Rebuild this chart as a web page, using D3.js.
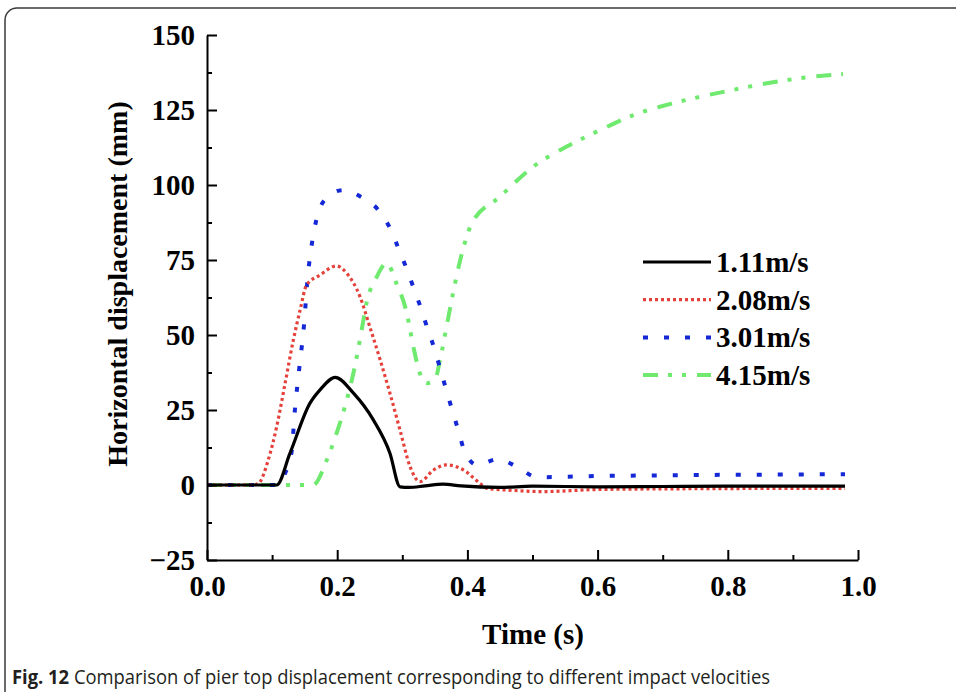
<!DOCTYPE html>
<html>
<head>
<meta charset="utf-8">
<script src="https://cdn.jsdelivr.net/npm/d3@7/dist/d3.min.js"></script>
<style>
  html, body { margin: 0; padding: 0; background: #fff; }
  svg { display: block; }
</style>
</head>
<body>
<svg id="chart" width="956" height="692"></svg>
<script>
// Pier top horizontal displacement under four impact velocities
const seriesNames = ["1.11m/s", "2.08m/s", "3.01m/s", "4.15m/s"];

const time111 = [0, 0.05, 0.107, 0.1275, 0.158, 0.1736, 0.197, 0.225, 0.2555, 0.281, 0.2965, 0.31, 0.335, 0.3625, 0.39, 0.45, 0.5, 0.6, 0.7, 0.8, 0.9, 0.98];
const disp111 = [0, 0, 0, 10.6, 27.2, 31.7, 35.9, 30.6, 21.7, 10.6, -0.6, -0.8, -0.3, 0.3, -0.3, -0.8, -0.4, -0.6, -0.5, -0.4, -0.4, -0.4];

const time208 = [0, 0.07, 0.079, 0.094, 0.107, 0.12, 0.1326, 0.143, 0.153, 0.1736, 0.199, 0.2146, 0.235, 0.25, 0.266, 0.281, 0.2965, 0.312, 0.327, 0.348, 0.368, 0.394, 0.419, 0.43, 0.47, 0.517, 0.6, 0.7, 0.8, 0.9, 0.98];
const disp208 = [0, 0, 0.5, 8.3, 19.4, 33.9, 48.3, 58.3, 66.7, 70, 73, 70.6, 62.8, 52.8, 41.7, 30.6, 18.3, 6.1, 1.1, 5, 6.7, 5, 0.6, -1.1, -1.8, -2.2, -1.5, -1.3, -1.2, -1.1, -1.1];

const time301 = [0, 0.11, 0.12, 0.13, 0.135, 0.142, 0.149, 0.154, 0.162, 0.1685, 0.18, 0.2084, 0.2376, 0.263, 0.281, 0.294, 0.307, 0.318, 0.329, 0.339, 0.35, 0.359, 0.368, 0.377, 0.3866, 0.396, 0.415, 0.4465, 0.476, 0.507, 0.6, 0.7, 0.8, 0.9, 0.98];
const disp301 = [0, 0, 3.9, 11.1, 25, 39.4, 53.3, 67.6, 81.7, 88.8, 94.8, 98.3, 95.9, 91.7, 85.6, 78.9, 71.9, 65.3, 58.7, 51.9, 45, 38.1, 31.4, 24.7, 17.8, 11, 6.7, 8.6, 6.1, 2.6, 3.0, 3.2, 3.4, 3.5, 3.6];

const time415 = [0, 0.163, 0.184, 0.199, 0.2146, 0.227, 0.2376, 0.245, 0.2607, 0.276, 0.291, 0.307, 0.317, 0.327, 0.3375, 0.35, 0.358, 0.368, 0.378, 0.389, 0.399, 0.4066, 0.45, 0.501, 0.5525, 0.6037, 0.655, 0.706, 0.757, 0.808, 0.86, 0.911, 0.977];
const disp415 = [0, 0, 8.3, 17.2, 28.3, 39.4, 51.7, 60.6, 69.4, 73.9, 67.2, 57.2, 46.1, 37.2, 33.9, 35, 41.7, 52.8, 64, 75, 82.8, 87.2, 96.1, 106.1, 112.8, 118.3, 123.3, 126.7, 129.4, 131.7, 133.9, 135.6, 137];

const xTicks = [0, 0.2, 0.4, 0.6, 0.8, 1.0];
const xMinorTicks = [0.1, 0.3, 0.5, 0.7, 0.9];
const yTicks = [-25, 0, 25, 50, 75, 100, 125, 150];
const yMinorTicks = [-12.5, 12.5, 37.5, 62.5, 87.5, 112.5, 137.5];

const svg = d3.select("#chart");

// figure frame with rounded corner
svg.append("rect")
  .attr("x", 5).attr("y", 8)
  .attr("width", 970).attr("height", 700)
  .attr("rx", 12).attr("ry", 12)
  .attr("fill", "#fff")
  .attr("stroke", "#3a3a3a")
  .attr("stroke-width", 1.5);

const x = d3.scaleLinear().domain([0, 1]).range([207, 858]);
const y = d3.scaleLinear().domain([-25, 150]).range([560, 35]);

const styles = [
  { color: "#000000", width: 3.2, dash: null },
  { color: "#e5413b", width: 3.2, dash: "3,3" },
  { color: "#1428d6", width: 4, dash: "5,16" },
  { color: "#6fea6f", width: 4, dash: "15,10,4,10,4,11" }
];

const series = [
  { t: time111, v: disp111 },
  { t: time208, v: disp208 },
  { t: time301, v: disp301 },
  { t: time415, v: disp415 }
];

const line = d3.line()
  .x(d => x(d[0]))
  .y(d => y(d[1]))
  .curve(d3.curveMonotoneX);

const plot = svg.append("g");
[3, 2, 1, 0].forEach(i => {
  const pts = series[i].t.map((t, k) => [t, series[i].v[k]]);
  plot.append("path")
    .datum(pts)
    .attr("d", line)
    .attr("fill", "none")
    .attr("stroke", styles[i].color)
    .attr("stroke-width", styles[i].width)
    .attr("stroke-dasharray", styles[i].dash)
    .attr("stroke-linejoin", "round");
});

const tickFont = "'Liberation Serif', 'Times New Roman', serif";

// x axis
const xAxis = svg.append("g").attr("transform", "translate(0,560)")
  .call(d3.axisBottom(x).tickValues(xTicks).tickSizeInner(-10).tickSizeOuter(0).tickPadding(10)
    .tickFormat(d3.format(".1f")));
svg.append("g").attr("transform", "translate(0,560)")
  .call(d3.axisBottom(x).tickValues(xMinorTicks).tickSizeInner(-5).tickSizeOuter(0).tickFormat(""))
  .select(".domain").remove();

// y axis
const yAxis = svg.append("g").attr("transform", "translate(207,0)")
  .call(d3.axisLeft(y).tickValues(yTicks).tickSizeInner(-10).tickSizeOuter(0).tickPadding(12)
    .tickFormat(d3.format("d")));
svg.append("g").attr("transform", "translate(207,0)")
  .call(d3.axisLeft(y).tickValues(yMinorTicks).tickSizeInner(-5).tickSizeOuter(0).tickFormat(""))
  .select(".domain").remove();

svg.selectAll(".domain, .tick line").attr("stroke", "#000").attr("stroke-width", 2);
svg.selectAll(".tick text")
  .attr("fill", "#000")
  .style("font-family", tickFont)
  .style("font-weight", "bold")
  .style("font-size", "29px");
xAxis.selectAll(".tick text").attr("dy", "0.9em");

// axis titles
svg.append("text")
  .attr("x", 533).attr("y", 644)
  .attr("text-anchor", "middle")
  .style("font-family", tickFont).style("font-weight", "bold").style("font-size", "29px")
  .text("Time (s)");

svg.append("text")
  .attr("transform", "translate(127,284) rotate(-90)")
  .attr("text-anchor", "middle")
  .style("font-family", tickFont).style("font-weight", "bold").style("font-size", "28px")
  .text("Horizontal displacement (mm)");

// legend
const legend = svg.append("g");
seriesNames.forEach((name, i) => {
  const yy = 262 + i * 37.7;
  legend.append("line")
    .attr("x1", 643).attr("x2", 711)
    .attr("y1", yy).attr("y2", yy)
    .attr("stroke", styles[i].color)
    .attr("stroke-width", styles[i].width)
    .attr("stroke-dasharray", styles[i].dash);
  legend.append("text")
    .attr("x", 716).attr("y", yy + 10)
    .style("font-family", tickFont).style("font-weight", "bold").style("font-size", "29px")
    .text(name);
});

// caption
const cap = svg.append("text")
  .attr("x", 12).attr("y", 684)
  .attr("textLength", 758).attr("lengthAdjust", "spacingAndGlyphs")
  .style("font-family", "'Open Sans', 'Noto Sans', sans-serif")
  .style("font-size", "20px")
  .attr("fill", "#231f20");
cap.append("tspan").style("font-weight", "bold").text("Fig. 12");
cap.append("tspan").text(" Comparison of pier top displacement corresponding to different impact velocities");
</script>
</body>
</html>
